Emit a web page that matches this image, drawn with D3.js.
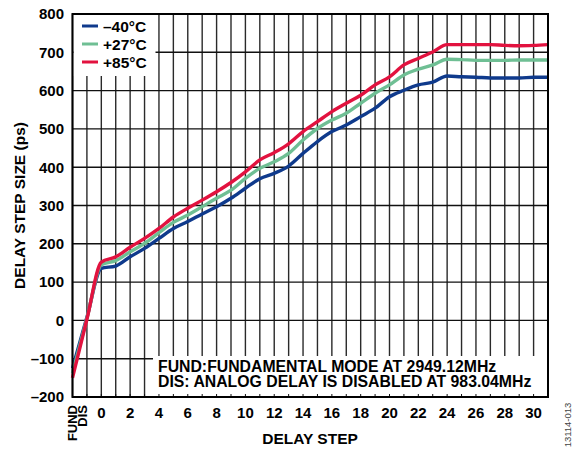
<!DOCTYPE html>
<html><head><meta charset="utf-8">
<script src="https://cdn.jsdelivr.net/npm/d3@7/dist/d3.min.js"></script>
<style>
html,body{margin:0;padding:0;background:#fff;}
svg{display:block;font-family:"Liberation Sans",Arial,Helvetica,sans-serif;font-weight:bold;}
</style></head>
<body>
<svg id="chart" width="574" height="454"></svg>
<script>
const categories = ["FUND","DIS","0","1","2","3","4","5","6","7","8","9","10","11","12","13","14","15","16","17","18","19","20","21","22","23","24","25","26","27","28","29","30","31"];
const tickLabels = ["0","2","4","6","8","10","12","14","16","18","20","22","24","26","28","30"];
const specialLabels = ["FUND","DIS"];
const yTicks = [-200,-100,0,100,200,300,400,500,600,700,800];
const seriesNames = ["\u201340\u00B0C","+27\u00B0C","+85\u00B0C"];
const seriesColors = ["#0f3a8c","#6fbf94","#e2123f"];
const minus40 = [-125,8,136,142,166,188,214,240,258,278,297,319,345,370,384,403,436,467,493,510,532,554,584,601,615,622,638,636,635,633,633,633,635,635];
const plus27 = [-138,5,145,156,179,201,229,256,275,297,319,340,371,397,414,436,471,501,523,541,567,593,615,641,656,667,682,681,679,679,679,680,680,680];
const plus85 = [-150,3,152,166,191,214,240,270,293,314,336,360,388,419,438,461,493,519,545,567,588,615,636,667,684,701,720,720,720,720,718,717,718,720];
const annotation = ["FUND:FUNDAMENTAL MODE AT 2949.12MHz","DIS: ANALOG DELAY IS DISABLED AT 983.04MHz"];
const xTitle = "DELAY STEP";
const yTitle = "DELAY STEP SIZE (ps)";
const figId = "13114-013";

const svg = d3.select("#chart");
const L = 72.5, R = 548, T = 14, B = 397;
const x = d3.scalePoint().domain(categories).range([L, R]);
const y = d3.scaleLinear().domain([-200, 800]).range([B, T]);

// grid
const g = svg.append("g");
g.selectAll("line.v").data(categories).enter().append("line")
  .attr("x1", d => x(d)).attr("x2", d => x(d)).attr("y1", T).attr("y2", B)
  .attr("stroke", "#2a2a2a").attr("stroke-width", 1.4);
g.selectAll("line.h").data(yTicks).enter().append("line")
  .attr("x1", L).attr("x2", R).attr("y1", d => y(d)).attr("y2", d => y(d))
  .attr("stroke", "#111").attr("stroke-width", 1.4);

// legend and annotation backgrounds
svg.append("rect").attr("x", L + 1).attr("y", T + 1).attr("width", 82).attr("height", 61).attr("fill", "#fff");
svg.append("rect").attr("x", 153).attr("y", 356).attr("width", R - 153).attr("height", B - 356).attr("fill", "#fff");

// inward ticks on bottom axis
svg.append("g").selectAll("line").data(categories).enter().append("line")
  .attr("x1", d => x(d)).attr("x2", d => x(d)).attr("y1", B).attr("y2", B - 3)
  .attr("stroke", "#111").attr("stroke-width", 1);

// lines
const line = d3.line().x((d, i) => x(categories[i])).y(d => y(d)).curve(d3.curveMonotoneX);
[minus40, plus27, plus85].forEach((s, k) => {
  svg.append("path").datum(s).attr("d", line).attr("fill", "none")
    .attr("stroke", seriesColors[k]).attr("stroke-width", 3.4).attr("stroke-linejoin", "round");
});

// frame
svg.append("rect").attr("x", L).attr("y", T).attr("width", R - L).attr("height", B - T)
  .attr("fill", "none").attr("stroke", "#000").attr("stroke-width", 2);

// y tick labels
svg.append("g").selectAll("text").data(yTicks).enter().append("text")
  .attr("x", 64).attr("y", d => y(d) + 5.3).attr("text-anchor", "end")
  .attr("font-size", 15).text(d => d < 0 ? "\u2013" + Math.abs(d) : d);

// x tick labels
svg.append("g").selectAll("text").data(tickLabels).enter().append("text")
  .attr("x", d => x(d)).attr("y", 417.5).attr("text-anchor", "middle")
  .attr("font-size", 15).text(d => d);
svg.append("g").selectAll("text").data(specialLabels).enter().append("text")
  .attr("transform", (d, i) => `translate(${x(d) + (i === 0 ? 4.8 : 0)},405) rotate(-90)`)
  .attr("text-anchor", "end").attr("font-size", 13).text(d => d);

// titles
svg.append("text").attr("x", 310).attr("y", 444).attr("text-anchor", "middle")
  .attr("font-size", 15.5).text(xTitle);
svg.append("text").attr("transform", `translate(25,${(T + B) / 2}) rotate(-90)`)
  .attr("text-anchor", "middle").attr("font-size", 15.5).text(yTitle);
svg.append("text").attr("transform", "translate(571,425) rotate(-90)")
  .attr("text-anchor", "middle").attr("font-size", 9.5).attr("font-weight", "normal")
  .attr("fill", "#444").text(figId);

// legend
const lg = svg.append("g");
seriesNames.forEach((n, k) => {
  const cy = 26 + k * 18;
  lg.append("line").attr("x1", 82).attr("x2", 98).attr("y1", cy).attr("y2", cy)
    .attr("stroke", seriesColors[k]).attr("stroke-width", 3);
  lg.append("text").attr("x", 103).attr("y", cy + 5.5).attr("font-size", 15.5).text(n);
});

// annotation
annotation.forEach((t, k) => {
  svg.append("text").attr("x", 158).attr("y", 371.5 + k * 15.5).attr("font-size", 15.8).text(t);
});
</script>
</body></html>
